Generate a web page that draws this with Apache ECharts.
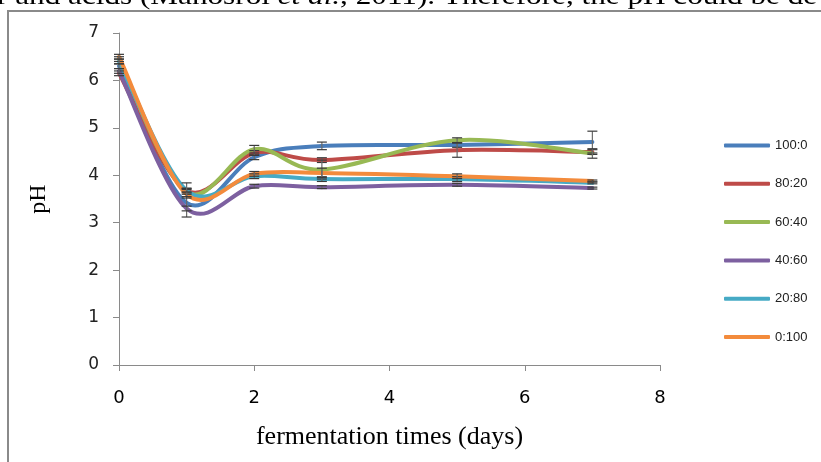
<!DOCTYPE html>
<html><head><meta charset="utf-8">
<script src="https://cdn.jsdelivr.net/npm/echarts@6/dist/echarts.min.js"></script>
<style>html,body{margin:0;padding:0;background:#fff;overflow:hidden}#c{width:821px;height:462px}</style>
</head><body><div id="c"></div>
<script>
// ---- data ----
const days = [0, 1, 2, 3, 5, 7];
const seriesNames = ['100:0', '80:20', '60:40', '40:60', '20:80', '0:100'];
const ph_100_0 = [6.30, 3.42, 4.38, 4.62, 4.64, 4.70];
const ph_80_20 = [6.15, 3.68, 4.47, 4.32, 4.53, 4.49];
const ph_60_40 = [6.45, 3.65, 4.55, 4.12, 4.74, 4.46];
const ph_40_60 = [6.20, 3.30, 3.77, 3.75, 3.80, 3.73];
const ph_20_80 = [6.40, 3.68, 3.98, 3.92, 3.92, 3.84];
const ph_0_100 = [6.50, 3.60, 4.03, 4.05, 3.98, 3.88];
const sd_100_0 = [0.05, 0.30, 0.05, 0.08, 0.05, 0.23];
const sd_80_20 = [0.05, 0.05, 0.05, 0.05, 0.15, 0.05];
const sd_60_40 = [0.05, 0.05, 0.08, 0.20, 0.05, 0.10];
const sd_40_60 = [0.05, 0.05, 0.04, 0.03, 0.03, 0.02];
const sd_20_80 = [0.05, 0.16, 0.05, 0.05, 0.05, 0.02];
const sd_0_100 = [0.05, 0.05, 0.05, 0.10, 0.05, 0.02];
const xTickLabels = ['0', '2', '4', '6', '8'];
const yTickLabels = ['0', '1', '2', '3', '4', '5', '6', '7'];
const xAxisTitle = 'fermentation times (days)';
const yAxisTitle = 'pH';
const captionBefore = 'r and acids (Manosroi ';
const captionItalic = 'et al.';
const captionAfter = ', 2011). Therefore, the pH could be de';

const values = [ph_100_0, ph_80_20, ph_60_40, ph_40_60, ph_20_80, ph_0_100];
const sds = [sd_100_0, sd_80_20, sd_60_40, sd_40_60, sd_20_80, sd_0_100];
const colors = ['#4A7EBB', '#BE4B48', '#98B954', '#7D60A0', '#46AAC5', '#F38B3C'];

// Smoothed lines (Catmull-Rom style Bezier, like the spreadsheet's "smoothed line"),
// every point placed through the cartesian axes via api.coord.
const lineSeries = seriesNames.map((n, s) => ({
  name: n, type: 'custom', coordinateSystem: 'cartesian2d', z: 2 + s * 0.01,
  itemStyle: { color: colors[s] },
  encode: { x: 0, y: 1 },
  data: days.map((d, j) => [d, values[s][j]]),
  renderItem: function (params, api) {
    const i = params.dataIndex, m = days.length;
    if (i >= m - 1) return null;
    const P = k => { const kk = Math.max(0, Math.min(m - 1, k)); return api.coord([days[kk], values[s][kk]]); };
    const p0 = P(i - 1), p1 = P(i), p2 = P(i + 1), p3 = P(i + 2);
    const c1 = [p1[0] + (p2[0] - p0[0]) / 6, p1[1] + (p2[1] - p0[1]) / 6];
    const c2 = [p2[0] - (p3[0] - p1[0]) / 6, p2[1] - (p3[1] - p1[1]) / 6];
    return { type: 'bezierCurve',
      shape: { x1: p1[0], y1: p1[1], x2: p2[0], y2: p2[1], cpx1: c1[0], cpy1: c1[1], cpx2: c2[0], cpy2: c2[1] },
      style: { stroke: colors[s], lineWidth: 4, fill: null, lineCap: 'round' } };
  }
}));
const errSeries = seriesNames.map((n, i) => ({
  name: 'err ' + n, type: 'custom', z: 5,
  data: days.map((d, j) => [d, values[i][j], sds[i][j]]),
  renderItem: function (params, api) {
    const x = api.value(0), y = api.value(1), e = api.value(2);
    const t = api.coord([x, y + e]), b = api.coord([x, y - e]);
    const w = 5;
    const st = { stroke: '#3a3a3a', lineWidth: 1.2 };
    return { type: 'group', children: [
      { type: 'line', shape: { x1: t[0], y1: t[1], x2: b[0], y2: b[1] }, style: { stroke: '#6a6a6a', lineWidth: 1.2 } },
      { type: 'line', shape: { x1: t[0] - w, y1: t[1], x2: t[0] + w, y2: t[1] }, style: st },
      { type: 'line', shape: { x1: b[0] - w, y1: b[1], x2: b[0] + w, y2: b[1] }, style: st }
    ] };
  }
}));

const chart = echarts.init(document.getElementById('c'));
chart.setOption({
  animation: false,
  backgroundColor: '#fff',
  grid: { left: 119, right: 161, top: 33, bottom: 97, containLabel: false },
  graphic: [
    { type: 'rect', shape: { x: 8, y: 11, width: 900, height: 600 }, style: { fill: 'none', stroke: '#8a8a8a', lineWidth: 2 }, z: 0 },
    { type: 'text', x: -3, y: -2.5, scaleX: 1.2, z: 10, style: {
      text: '{n|' + captionBefore + '}{i|' + captionItalic + '}{n|' + captionAfter + '}',
      verticalAlign: 'middle', align: 'left',
      rich: {
        n: { fontFamily: 'Liberation Serif', fontSize: 26, fill: '#000' },
        i: { fontFamily: 'Liberation Serif', fontSize: 26, fontStyle: 'italic', fill: '#000' }
      } } }
  ],
  legend: {
    orient: 'vertical', left: 719, top: 134, itemWidth: 46, itemHeight: 4, itemGap: 25.3,
    icon: 'roundRect', data: seriesNames.map((n, i) => ({ name: n, itemStyle: { color: colors[i] } })),
    textStyle: { fontFamily: 'Liberation Sans', fontSize: 13, color: '#222' }
  },
  xAxis: {
    type: 'value', min: 0, max: 8, interval: 2,
    name: xAxisTitle, nameLocation: 'middle', nameGap: 59,
    nameTextStyle: { fontFamily: 'Liberation Serif', fontSize: 26, color: '#000' },
    axisLine: { show: true, onZero: false, lineStyle: { color: '#8a8a8a', width: 1 } },
    axisTick: { show: true, inside: false, length: 6, lineStyle: { color: '#8a8a8a' } },
    axisLabel: { fontFamily: 'DejaVu Sans', fontSize: 18, color: '#000', margin: 24,
      formatter: v => xTickLabels[v / 2] },
    splitLine: { show: false }
  },
  yAxis: {
    type: 'value', min: 0, max: 7, interval: 1,
    name: yAxisTitle, nameLocation: 'middle', nameGap: 68, nameRotate: 90,
    nameTextStyle: { fontFamily: 'Liberation Serif', fontSize: 24, color: '#000' },
    axisLine: { show: true, lineStyle: { color: '#8a8a8a', width: 1 } },
    axisTick: { show: true, inside: false, length: 6, lineStyle: { color: '#8a8a8a' } },
    axisLabel: { fontFamily: 'DejaVu Sans', fontSize: 17, color: '#222', margin: 20,
      formatter: v => yTickLabels[v] },
    splitLine: { show: false }
  },
  series: lineSeries.concat(errSeries)
});
</script></body></html>
